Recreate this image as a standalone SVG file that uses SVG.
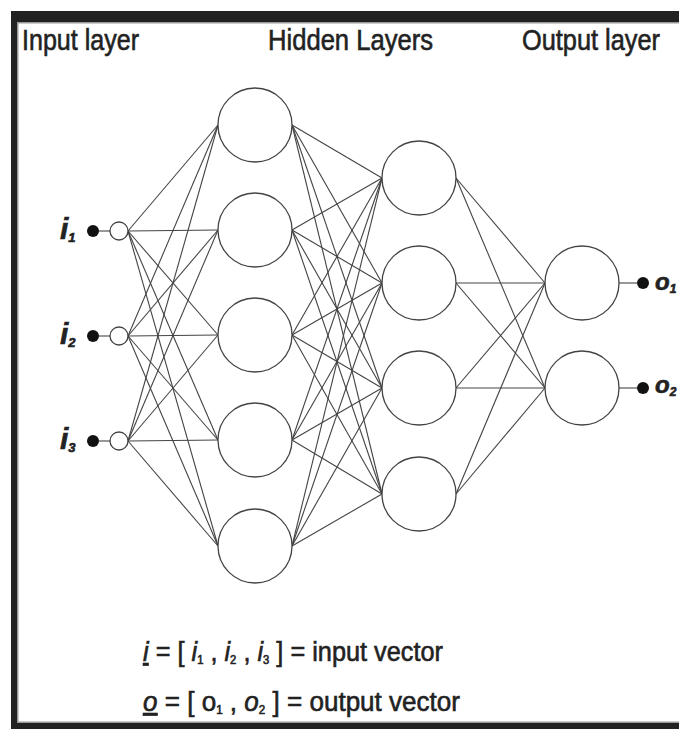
<svg xmlns="http://www.w3.org/2000/svg" width="679" height="729" viewBox="0 0 679 729">
<style>
.lbl{font-family:"Liberation Sans",Arial,sans-serif;fill:#222;stroke:#222;stroke-width:0.6}
.node{fill:#fff;stroke:#444;stroke-width:1.3}
.dot{fill:#111}
.conn line{stroke:#444;stroke-width:1.1}
</style>
<rect x="0" y="0" width="679" height="729" fill="#fff"/>
<g id="frame">
<rect x="11" y="11" width="668" height="11" fill="#222"/>
<rect x="17" y="22" width="662" height="1.5" fill="#999"/>
<rect x="11" y="11" width="6" height="718" fill="#222"/>
<rect x="17" y="22" width="1.5" height="700" fill="#999"/>
<rect x="11" y="723" width="668" height="6" fill="#222"/>
<rect x="17" y="721.5" width="662" height="1.5" fill="#999"/>
</g>
<g id="headers" class="lbl" font-size="29">
<text x="22" y="50" textLength="117" lengthAdjust="spacingAndGlyphs">Input layer</text>
<text x="268" y="50" textLength="165" lengthAdjust="spacingAndGlyphs">Hidden Layers</text>
<text x="522" y="50" textLength="138" lengthAdjust="spacingAndGlyphs">Output layer</text>
</g>
<g id="connectors" class="conn">
<line x1="99" y1="231" x2="110" y2="231"/>
<line x1="99" y1="336" x2="110" y2="336"/>
<line x1="99" y1="441" x2="110" y2="441"/>
<line x1="128" y1="231" x2="218" y2="125"/><line x1="128" y1="231" x2="218" y2="230"/><line x1="128" y1="231" x2="218" y2="335"/><line x1="128" y1="231" x2="218" y2="440"/><line x1="128" y1="231" x2="218" y2="546"/>
<line x1="128" y1="336" x2="218" y2="125"/><line x1="128" y1="336" x2="218" y2="230"/><line x1="128" y1="336" x2="218" y2="335"/><line x1="128" y1="336" x2="218" y2="440"/><line x1="128" y1="336" x2="218" y2="546"/>
<line x1="128" y1="441" x2="218" y2="125"/><line x1="128" y1="441" x2="218" y2="230"/><line x1="128" y1="441" x2="218" y2="335"/><line x1="128" y1="441" x2="218" y2="440"/><line x1="128" y1="441" x2="218" y2="546"/>
<line x1="292" y1="125" x2="382" y2="178"/><line x1="292" y1="125" x2="382" y2="283"/><line x1="292" y1="125" x2="382" y2="388"/><line x1="292" y1="125" x2="382" y2="494"/>
<line x1="292" y1="230" x2="382" y2="178"/><line x1="292" y1="230" x2="382" y2="283"/><line x1="292" y1="230" x2="382" y2="388"/><line x1="292" y1="230" x2="382" y2="494"/>
<line x1="292" y1="335" x2="382" y2="178"/><line x1="292" y1="335" x2="382" y2="283"/><line x1="292" y1="335" x2="382" y2="388"/><line x1="292" y1="335" x2="382" y2="494"/>
<line x1="292" y1="440" x2="382" y2="178"/><line x1="292" y1="440" x2="382" y2="283"/><line x1="292" y1="440" x2="382" y2="388"/><line x1="292" y1="440" x2="382" y2="494"/>
<line x1="292" y1="546" x2="382" y2="178"/><line x1="292" y1="546" x2="382" y2="283"/><line x1="292" y1="546" x2="382" y2="388"/><line x1="292" y1="546" x2="382" y2="494"/>
<line x1="456" y1="178" x2="545" y2="283"/><line x1="456" y1="178" x2="545" y2="388"/>
<line x1="456" y1="283" x2="545" y2="283"/><line x1="456" y1="283" x2="545" y2="388"/>
<line x1="456" y1="388" x2="545" y2="283"/><line x1="456" y1="388" x2="545" y2="388"/>
<line x1="456" y1="494" x2="545" y2="283"/><line x1="456" y1="494" x2="545" y2="388"/>
<line x1="619" y1="283" x2="637" y2="283"/>
<line x1="619" y1="388" x2="637" y2="388"/>
</g>
<g id="in1"><circle class="dot" cx="93" cy="231" r="6"/><circle class="node" cx="119" cy="231" r="9"/><text class="lbl" x="60" y="239" font-size="30" font-style="italic" font-weight="bold">i<tspan font-size="13" dy="3">1</tspan></text></g>
<g id="in2"><circle class="dot" cx="93" cy="336" r="6"/><circle class="node" cx="119" cy="336" r="9"/><text class="lbl" x="60" y="344" font-size="30" font-style="italic" font-weight="bold">i<tspan font-size="13" dy="3">2</tspan></text></g>
<g id="in3"><circle class="dot" cx="93" cy="441" r="6"/><circle class="node" cx="119" cy="441" r="9"/><text class="lbl" x="60" y="449" font-size="30" font-style="italic" font-weight="bold">i<tspan font-size="13" dy="3">3</tspan></text></g>
<g id="h1a"><circle class="node" cx="255" cy="125" r="37"/></g>
<g id="h1b"><circle class="node" cx="255" cy="230" r="37"/></g>
<g id="h1c"><circle class="node" cx="255" cy="335" r="37"/></g>
<g id="h1d"><circle class="node" cx="255" cy="440" r="37"/></g>
<g id="h1e"><circle class="node" cx="255" cy="546" r="37"/></g>
<g id="h2a"><circle class="node" cx="419" cy="178" r="37"/></g>
<g id="h2b"><circle class="node" cx="419" cy="283" r="37"/></g>
<g id="h2c"><circle class="node" cx="419" cy="388" r="37"/></g>
<g id="h2d"><circle class="node" cx="419" cy="494" r="37"/></g>
<g id="out1"><circle class="node" cx="582" cy="283" r="37"/><circle class="dot" cx="643" cy="283" r="6"/><text class="lbl" x="655" y="290" font-size="24" font-style="italic" font-weight="bold">o<tspan font-size="12" dy="3">1</tspan></text></g>
<g id="out2"><circle class="node" cx="582" cy="388" r="37"/><circle class="dot" cx="643" cy="388" r="6"/><text class="lbl" x="655" y="393" font-size="24" font-style="italic" font-weight="bold">o<tspan font-size="12" dy="3">2</tspan></text></g>
<g id="legend" class="lbl" font-size="27">
<text x="143" y="661" textLength="300" lengthAdjust="spacingAndGlyphs"><tspan font-style="italic" text-decoration="underline">i</tspan> = [ <tspan font-style="italic">i</tspan><tspan font-size="12" dy="3">1</tspan><tspan dy="-3"> , </tspan><tspan font-style="italic">i</tspan><tspan font-size="12" dy="3">2</tspan><tspan dy="-3"> , </tspan><tspan font-style="italic">i</tspan><tspan font-size="12" dy="3">3</tspan><tspan dy="-3"> ] = input vector</tspan></text>
<text x="143" y="711" textLength="317" lengthAdjust="spacingAndGlyphs"><tspan font-style="italic" text-decoration="underline">o</tspan> = [ o<tspan font-size="12" dy="3">1</tspan><tspan dy="-3"> , </tspan><tspan font-style="italic">o</tspan><tspan font-size="12" dy="3">2</tspan><tspan dy="-3">  ] = output vector</tspan></text>
</g>
</svg>
